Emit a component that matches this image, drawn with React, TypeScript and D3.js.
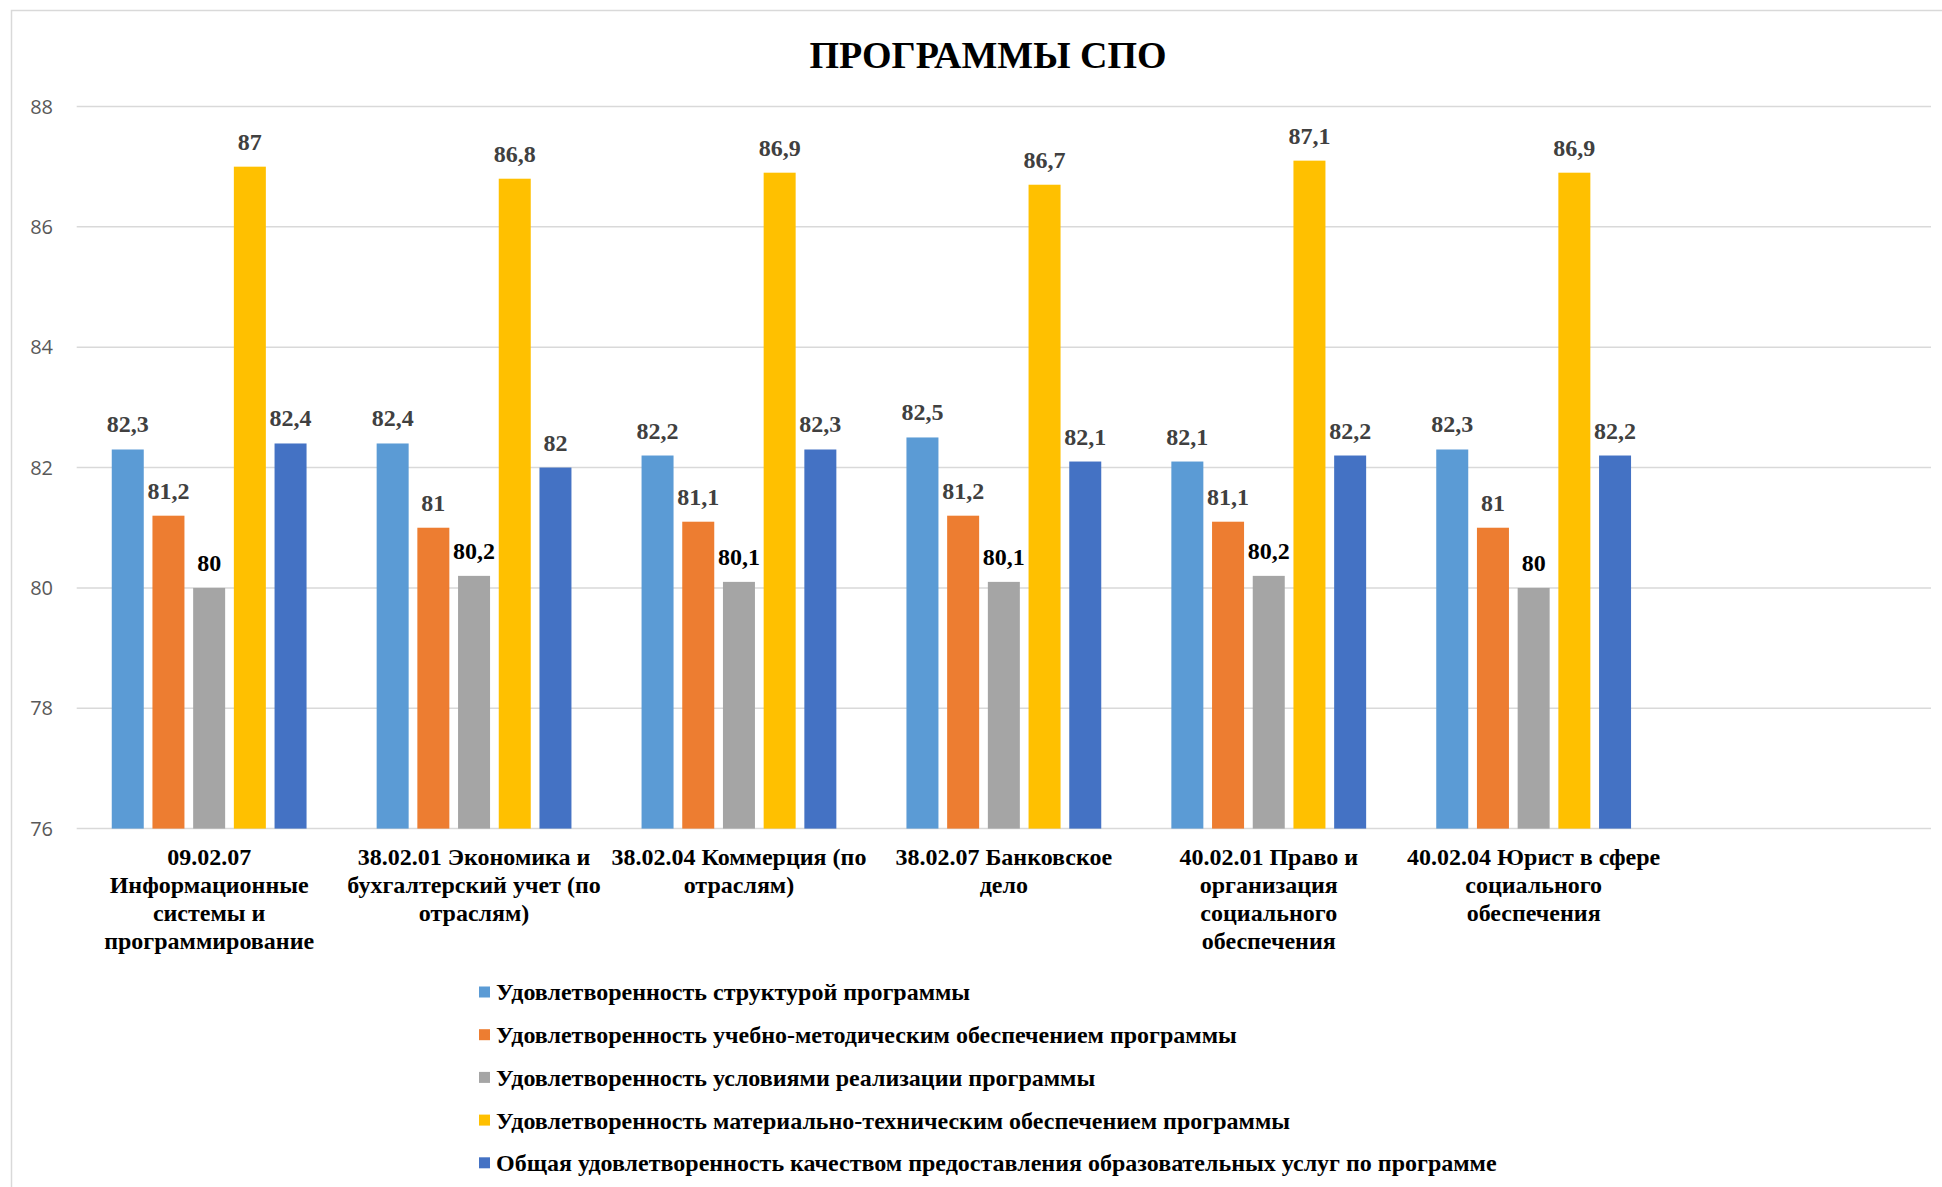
import React from "react";
import * as d3 from "d3";

const categories: string[][] = [
  ["09.02.07", "Информационные", "системы и", "программирование"],
  ["38.02.01 Экономика и", "бухгалтерский учет (по", "отраслям)"],
  ["38.02.04 Коммерция (по", "отраслям)"],
  ["38.02.07 Банковское", "дело"],
  ["40.02.01 Право и", "организация", "социального", "обеспечения"],
  ["40.02.04 Юрист в сфере", "социального", "обеспечения"],
  [],
];

const seriesNames = [
  "Удовлетворенность структурой программы",
  "Удовлетворенность учебно-методическим обеспечением программы",
  "Удовлетворенность условиями реализации программы",
  "Удовлетворенность материально-техническим обеспечением программы",
  "Общая удовлетворенность качеством предоставления образовательных услуг по программе",
];

const structure = [82.3, 82.4, 82.2, 82.5, 82.1, 82.3];
const methodical = [81.2, 81, 81.1, 81.2, 81.1, 81];
const conditions = [80, 80.2, 80.1, 80.1, 80.2, 80];
const material = [87, 86.8, 86.9, 86.7, 87.1, 86.9];
const overall = [82.4, 82, 82.3, 82.1, 82.2, 82.2];

const seriesValues = [structure, methodical, conditions, material, overall];
const colors = ["#5B9BD5", "#ED7D31", "#A5A5A5", "#FFC000", "#4472C4"];
const labelColors = ["#404040", "#404040", "#000000", "#404040", "#404040"];

const yTicks = [76, 78, 80, 82, 84, 86, 88];
const title = "ПРОГРАММЫ СПО";

const W = 1942;
const H = 1187;
const plotLeft = 76.7;
const plotRight = 1931;
const plotTop = 106.5;
const plotBottom = 828.6;

const serif = "'Liberation Serif', 'Times New Roman', serif";

export default function App() {
  const x0 = d3
    .scaleBand<number>()
    .domain(d3.range(categories.length))
    .range([plotLeft, plotRight])
    .paddingInner(0)
    .paddingOuter(0);
  const band = x0.bandwidth();
  const groupWidth = 194.8;
  const x1 = d3
    .scaleBand<number>()
    .domain(d3.range(seriesNames.length))
    .range([(band - groupWidth) / 2, (band + groupWidth) / 2])
    .paddingInner(0.2138)
    .paddingOuter(0);
  const y = d3.scaleLinear().domain([76, 88]).range([plotBottom, plotTop]);
  const fmt = (v: number) => d3.format("~g")(v).replace(".", ",");

  return (
    <svg
      width={W}
      height={H}
      style={{ position: "absolute", left: 0, top: 0, display: "block", background: "#fff" }}
    >
      <rect x={11.5} y={10.5} width={2100} height={1300} fill="#fff" stroke="#d9d9d9" strokeWidth={1.5} />
      <text
        x={988}
        y={68}
        textAnchor="middle"
        fontFamily={serif}
        fontWeight="bold"
        fontSize={38}
        fill="#000"
      >
        {title}
      </text>
      {yTicks.map((t) => (
        <g key={t}>
          <line
            x1={plotLeft}
            x2={plotRight}
            y1={y(t)}
            y2={y(t)}
            stroke="#d9d9d9"
            strokeWidth={1.5}
          />
          <text
            x={53}
            y={y(t)}
            dy="0.35em"
            textAnchor="end"
            fontFamily="'Open Sans', sans-serif"
            fontSize={20}
            fill="#595959"
          >
            {t}
          </text>
        </g>
      ))}
      {seriesValues.map((vals, si) => (
        <g key={si}>
          {vals.map((v, ci) => {
            const bx = (x0(ci) as number) + (x1(si) as number);
            return (
              <g key={ci}>
                <rect
                  x={bx}
                  y={y(v)}
                  width={x1.bandwidth()}
                  height={y(76) - y(v)}
                  fill={colors[si]}
                />
                <text
                  x={bx + x1.bandwidth() / 2}
                  y={y(v) - 17}
                  textAnchor="middle"
                  fontFamily={serif}
                  fontWeight="bold"
                  fontSize={24}
                  fill={labelColors[si]}
                >
                  {fmt(v)}
                </text>
              </g>
            );
          })}
        </g>
      ))}
      {categories.map((lines, ci) => (
        <text
          key={ci}
          x={(x0(ci) as number) + band / 2}
          y={865}
          textAnchor="middle"
          fontFamily={serif}
          fontWeight="bold"
          fontSize={24}
          fill="#000"
        >
          {lines.map((l, li) => (
            <tspan key={li} x={(x0(ci) as number) + band / 2} dy={li === 0 ? 0 : 28}>
              {l}
            </tspan>
          ))}
        </text>
      ))}
      {seriesNames.map((name, si) => {
        const cy = 992 + si * 42.7;
        return (
          <g key={si}>
            <rect x={479} y={cy - 5.5} width={11} height={11} fill={colors[si]} />
            <text
              x={496}
              y={cy}
              dy="0.35em"
              fontFamily={serif}
              fontWeight="bold"
              fontSize={24}
              fill="#000"
            >
              {name}
            </text>
          </g>
        );
      })}
    </svg>
  );
}
